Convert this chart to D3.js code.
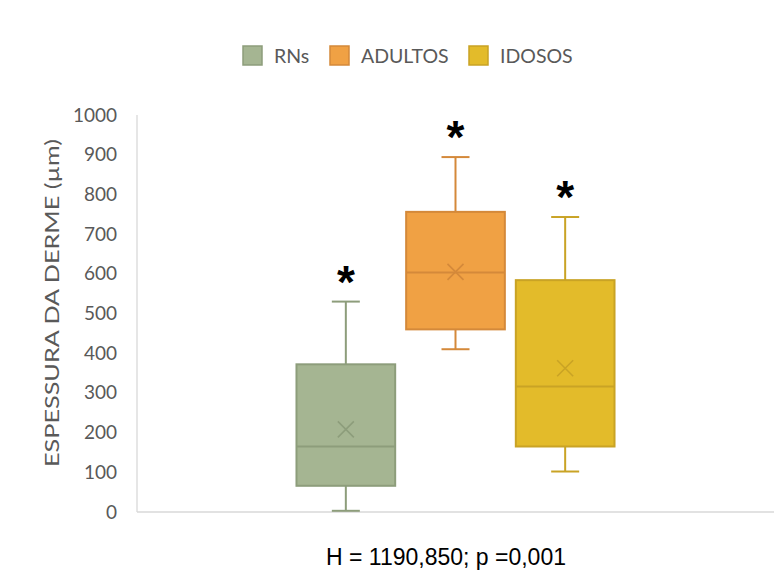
<!DOCTYPE html>
<html>
<head>
<meta charset="utf-8">
<script src="https://cdn.jsdelivr.net/npm/d3@7"></script>
<style>
  html, body { margin: 0; padding: 0; background: #fff; }
  svg { display: block; }
</style>
</head>
<body>
<svg id="chart" width="774" height="572"></svg>
<script>
// Dermis thickness by age group (µm): box-plot summaries
const groups = ["RNs", "ADULTOS", "IDOSOS"];
const whiskerLow = [3, 410, 102];
const q1 = [66, 460, 165];
const median = [165, 603, 316];
const q3 = [372, 756, 584];
const whiskerHigh = [530, 894, 743];
const mean = [208, 605, 362];
const fills = ["#a5b592", "#f0a144", "#e3bb2a"];
const strokes = ["#8d9d7b", "#d4893a", "#c9a325"];
const yTicks = [0, 100, 200, 300, 400, 500, 600, 700, 800, 900, 1000];
const yTitle = "ESPESSURA DA DERME (µm)";
const footnote = "H = 1190,850; p =0,001";
const marker = "*";

const svg = d3.select("#chart");
const plot = { left: 137, right: 774, top: 115, bottom: 512 };

const y = d3.scaleLinear().domain([0, 1000]).range([plot.bottom, plot.top]);
const x = d3.scaleBand().domain(groups).range([291, 620]).paddingInner(0.1).paddingOuter(0.05);

const tickFont = "Lato, 'Open Sans', sans-serif";

// Axes: light lines, labels on the left
svg.append("line")
  .attr("x1", plot.left).attr("x2", plot.left)
  .attr("y1", plot.top).attr("y2", plot.bottom)
  .attr("stroke", "#d9d9d9").attr("stroke-width", 1.3);
svg.append("line")
  .attr("x1", plot.left).attr("x2", plot.right)
  .attr("y1", plot.bottom).attr("y2", plot.bottom)
  .attr("stroke", "#d9d9d9").attr("stroke-width", 1.3);

const yAxis = d3.axisLeft(y).tickValues(yTicks).tickFormat(d3.format("d")).tickSize(0).tickPadding(20);
const ga = svg.append("g").attr("transform", `translate(${plot.left},0)`).call(yAxis);
ga.select(".domain").remove();
ga.selectAll("text")
  .attr("fill", "#595959")
  .style("font-family", tickFont)
  .style("font-size", "19px");

svg.append("text")
  .attr("transform", `translate(59,303) rotate(-90)`)
  .attr("text-anchor", "middle")
  .attr("fill", "#595959")
  .attr("textLength", 328)
  .attr("lengthAdjust", "spacingAndGlyphs")
  .style("font-family", tickFont)
  .style("font-size", "20px")
  .text(yTitle);

// Boxes
const idx = d3.range(groups.length);
const bw = x.bandwidth();
const capW = 28;
const g = svg.append("g");

idx.forEach(i => {
  const cx = x(groups[i]) + bw / 2;
  const s = strokes[i];
  const bg = g.append("g");
  // whiskers
  bg.append("line").attr("x1", cx).attr("x2", cx)
    .attr("y1", y(q3[i])).attr("y2", y(whiskerHigh[i]))
    .attr("stroke", s).attr("stroke-width", 2);
  bg.append("line").attr("x1", cx).attr("x2", cx)
    .attr("y1", y(q1[i])).attr("y2", y(whiskerLow[i]))
    .attr("stroke", s).attr("stroke-width", 2);
  bg.append("line").attr("x1", cx - capW / 2).attr("x2", cx + capW / 2)
    .attr("y1", y(whiskerHigh[i])).attr("y2", y(whiskerHigh[i]))
    .attr("stroke", s).attr("stroke-width", 2);
  bg.append("line").attr("x1", cx - capW / 2).attr("x2", cx + capW / 2)
    .attr("y1", y(whiskerLow[i])).attr("y2", y(whiskerLow[i]))
    .attr("stroke", s).attr("stroke-width", 2);
  // box
  bg.append("rect")
    .attr("x", x(groups[i])).attr("width", bw)
    .attr("y", y(q3[i])).attr("height", y(q1[i]) - y(q3[i]))
    .attr("fill", fills[i]).attr("stroke", s).attr("stroke-width", 2);
  // median
  bg.append("line").attr("x1", x(groups[i])).attr("x2", x(groups[i]) + bw)
    .attr("y1", y(median[i])).attr("y2", y(median[i]))
    .attr("stroke", s).attr("stroke-width", 2);
  // mean marker
  const m = 8, my = y(mean[i]);
  bg.append("path")
    .attr("d", `M${cx - m},${my - m}L${cx + m},${my + m}M${cx - m},${my + m}L${cx + m},${my - m}`)
    .attr("stroke", s).attr("stroke-width", 1.6).attr("fill", "none");
  // significance marker
  bg.append("text")
    .attr("x", cx).attr("y", y(whiskerHigh[i]) - 4)
    .attr("text-anchor", "middle")
    .attr("fill", "#000")
    .style("font-family", "'Liberation Sans', Arial, sans-serif")
    .style("font-weight", "bold")
    .style("font-size", "46px")
    .text(marker);
});

// Legend
const legendX = [243, 330, 469];
const leg = svg.append("g");
idx.forEach(i => {
  leg.append("rect")
    .attr("x", legendX[i]).attr("y", 46).attr("width", 19).attr("height", 19)
    .attr("fill", fills[i]).attr("stroke", strokes[i]).attr("stroke-width", 1.5);
  leg.append("text")
    .attr("x", legendX[i] + 31).attr("y", 63)
    .attr("fill", "#595959")
    .style("font-family", tickFont)
    .style("font-size", "19.5px")
    .text(groups[i]);
});

// Test statistic
svg.append("text")
  .attr("x", 446).attr("y", 565)
  .attr("text-anchor", "middle")
  .attr("fill", "#000")
  .style("font-family", "'Liberation Sans', Arial, sans-serif")
  .style("font-size", "23px")
  .text(footnote);
</script>
</body>
</html>
